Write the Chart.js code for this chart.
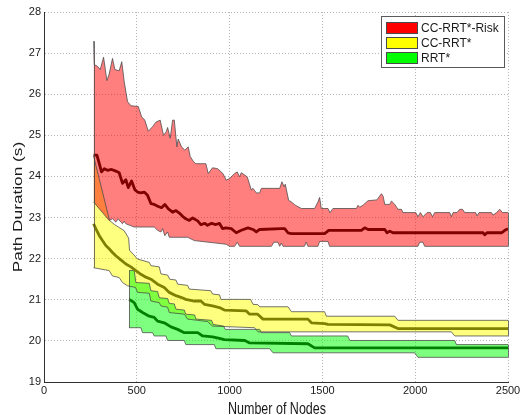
<!DOCTYPE html>
<html><head><meta charset="utf-8">
<script src="https://cdn.jsdelivr.net/npm/chart.js@4.4.0/dist/chart.umd.min.js"></script>
<style>html,body{margin:0;padding:0;background:#fff;}#wrap{width:523px;height:415px;position:relative;}</style>
</head><body><div id="wrap"><canvas id="c" width="523" height="415"></canvas></div>
<script>
// ---- data ----
const seriesNames = ['CC-RRT*-Risk', 'CC-RRT*', 'RRT*'];
const xTitle = 'Number of Nodes';
const yTitle = 'Path Duration (s)';
const xTicks = [0, 500, 1000, 1500, 2000, 2500];
const yTicks = [19, 20, 21, 22, 23, 24, 25, 26, 27, 28];

const riskUpperN = [267,271,288,303,321,339,351,369,382,405,419,432,450,468,508,526,543,562,585,603,626,644,659,666,680,693,702,716,723,741,759,777,788,806,818,872,885,908,935,964,982,1000,1027,1041,1054,1063,1095,1117,1126,1144,1162,1171,1270,1282,1293,1300,1318,1333,1354,1387,1458,1476,1485,1494,1530,1541,1557,1683,1692,1701,1719,1746,1794,1818,1827,1836,1863,1872,1890,1907,1926,1934,2003,2015,2028,2042,2064,2082,2093,2105,2186,2195,2204,2225,2240,2255,2267,2326,2333,2344,2411,2419,2438,2456,2470,2500];
const riskUpper = [27.29,26.72,26.68,26.6,26.9,26.33,26.49,26.87,26.6,26.57,26.79,26.31,25.82,25.72,25.70,25.45,25.37,25.1,25.21,25.32,25.37,25.0,25.09,25.19,24.93,25.37,25.37,24.72,24.91,24.72,24.64,24.72,24.48,24.36,24.31,24.31,24.07,24.21,24.19,24.07,23.91,23.95,24.07,24.11,23.99,24.09,23.99,23.67,23.71,23.6,23.6,23.71,23.71,23.87,23.75,23.81,23.42,23.38,23.3,23.22,23.22,23.38,23.49,23.22,23.22,23.12,23.22,23.22,23.3,23.25,23.3,23.41,23.43,23.58,23.52,23.32,23.32,23.4,23.32,23.2,23.2,23.12,23.12,23.02,23.12,23.02,23.12,23.12,23.02,23.12,23.12,23.02,23.12,23.12,23.2,23.2,23.12,23.12,23.04,23.12,23.12,23.06,23.12,23.2,23.12,23.12];

const riskMeanN = [267,285,298,310,325,342,364,387,405,423,441,454,472,489,504,522,540,558,576,594,616,633,651,670,693,711,729,747,764,783,801,828,845,867,881,903,926,945,962,980,1009,1036,1063,1099,1126,1144,1162,1279,1297,1314,1333,1512,1534,1710,1728,1746,1836,1848,1863,1880,2366,2375,2387,2465,2483,2500];
const riskMean = [24.52,24.52,24.31,24.11,24.19,24.15,24.17,24.13,24.09,23.83,23.92,23.73,23.89,23.68,23.62,23.6,23.62,23.54,23.34,23.32,23.27,23.24,23.32,23.21,23.13,23.17,23.11,23.03,22.97,22.93,22.99,22.92,22.83,22.86,22.81,22.86,22.83,22.86,22.73,22.75,22.73,22.63,22.69,22.75,22.71,22.65,22.71,22.73,22.73,22.63,22.61,22.61,22.69,22.69,22.75,22.71,22.71,22.63,22.67,22.63,22.63,22.58,22.63,22.63,22.69,22.73];

const riskLowerN = [267,351,369,387,400,414,423,432,441,486,594,612,630,639,651,666,675,774,810,982,1000,1027,1041,1054,1225,1239,1260,1270,1279,1288,1403,1413,1422,1476,1485,1530,1539,2015,2024,2042,2051,2500];
const riskLower = [23.38,22.93,22.97,22.89,22.97,22.89,22.85,22.91,22.85,22.77,22.77,22.69,22.65,22.73,22.56,22.65,22.52,22.52,22.44,22.35,22.3,22.3,22.4,22.3,22.3,22.4,22.4,22.3,22.38,22.3,22.3,22.4,22.3,22.3,22.42,22.42,22.3,22.3,22.4,22.4,22.3,22.3];

const ccUpperN = [267,353,380,432,456,461,479,504,567,576,621,630,666,677,711,720,774,783,899,908,946,953,1113,1126,1153,1162,1315,1333,1512,1521,1890,1907,2500];
const ccUpper = [24.5,22.93,22.83,22.68,22.5,22.2,22.12,21.99,21.91,21.83,21.8,21.63,21.6,21.5,21.48,21.38,21.35,21.26,21.22,21.14,21.12,21.01,21.01,20.89,20.88,20.83,20.83,20.71,20.71,20.6,20.6,20.5,20.5];

const ccMeanN = [267,279,298,315,333,351,369,387,414,441,468,495,522,549,576,612,648,675,711,738,764,810,845,864,908,945,972,1090,1108,1151,1180,1422,1441,1512,1530,1863,1907,2500];
const ccMean = [22.85,22.73,22.56,22.44,22.32,22.24,22.15,22.07,21.97,21.87,21.8,21.71,21.62,21.55,21.5,21.38,21.3,21.18,21.1,21.06,21.01,20.97,20.97,20.89,20.85,20.81,20.75,20.73,20.65,20.65,20.53,20.53,20.44,20.42,20.4,20.39,20.3,20.3];

const ccLowerN = [267,351,369,405,423,450,493,504,567,576,621,630,666,675,756,774,828,881,908,1135,1153,2195,2213,2500];
const ccLower = [21.78,21.71,21.58,21.54,21.42,21.34,21.3,21.18,21.16,20.97,20.93,20.85,20.82,20.69,20.65,20.53,20.5,20.47,20.36,20.32,20.22,20.22,20.12,20.12];

const rrtUpperN = [459,486,495,567,576,612,621,666,675,702,711,756,764,812,818,903,911,968,976,1162,1171,1324,1333,1636,1648,2213,2222,2500];
const rrtUpper = [21.71,21.71,21.42,21.4,21.22,21.2,21.05,21.03,20.91,20.9,20.77,20.75,20.65,20.63,20.53,20.5,20.4,20.36,20.28,20.28,20.2,20.2,20.12,20.12,20.01,20.01,19.91,19.91];

const rrtMeanN = [459,486,504,531,567,594,612,648,684,720,756,828,855,908,945,972,1082,1108,1422,1458,2500];
const rrtMean = [21.01,20.93,20.77,20.69,20.6,20.57,20.48,20.44,20.34,20.28,20.2,20.2,20.12,20.1,20.06,20.03,20.01,19.95,19.93,19.83,19.83];

const rrtLowerN = [459,522,531,585,594,657,666,756,764,918,926,1216,1234,1997,2015,2500];
const rrtLower = [20.32,20.32,20.2,20.2,20.12,20.12,20.01,20.01,19.91,19.91,19.81,19.81,19.71,19.71,19.6,19.6];

// ---- styling ----
const FONT = "'Liberation Sans', Arial, Helvetica, sans-serif";
const TEXT = '#1a1a1a';
const EDGE = 'rgba(70,70,70,0.75)';
const bandFill = ['rgba(255,0,0,0.5)', 'rgba(255,255,0,0.5)', 'rgba(0,255,0,0.5)'];
const swatch = ['#ff0000', '#ffff00', '#00ff00'];
const meanColor = ['#800000', '#808000', '#008000'];

function pts(n, v) { const m = Math.min(n.length, v.length); const out = []; for (let i = 0; i < m; i++) out.push({x: n[i], y: v[i]}); return out; }

function edgeDs(label, n, v, order, fillTarget, color) {
  return {label, data: pts(n, v), borderColor: EDGE, borderWidth: 1, pointRadius: 0, tension: 0,
    fill: fillTarget === null ? false : {target: fillTarget}, backgroundColor: color || 'transparent', order};
}
function meanDs(label, n, v, color) {
  return {label, data: pts(n, v), borderColor: color, borderWidth: 2.8, pointRadius: 0, tension: 0, fill: false, order: 0,
    borderJoinStyle: 'round', borderCapStyle: 'butt'};
}

const bands = [
  [riskUpperN, riskUpper, riskLowerN, riskLower],
  [ccUpperN, ccUpper, ccLowerN, ccLower],
  [rrtUpperN, rrtUpper, rrtLowerN, rrtLower]
];

const closeEdges = {
  id: 'closeEdges',
  afterDatasetsDraw(chart) {
    const {ctx, scales: {x, y}} = chart;
    ctx.save();
    ctx.strokeStyle = EDGE; ctx.lineWidth = 1;
    bands.forEach(([un, uv, ln, lv]) => {
      [[0, 0], [un.length - 1, ln.length - 1]].forEach(([iu, il]) => {
        const px = Math.round(x.getPixelForValue(un[iu])) + 0.5;
        ctx.beginPath();
        ctx.moveTo(px, y.getPixelForValue(uv[iu]));
        ctx.lineTo(px, y.getPixelForValue(lv[il]));
        ctx.stroke();
      });
    });
    ctx.restore();
  }
};

// axis titles: the reference picture is stretched vertically, so its text is too
const axisTitles = {
  id: 'axisTitles',
  afterDraw(chart) {
    const {ctx, chartArea: a} = chart;
    ctx.save();
    ctx.fillStyle = TEXT;
    ctx.font = '12.5px ' + FONT;
    ctx.textAlign = 'center';
    // x title
    ctx.save();
    ctx.translate((a.left + a.right) / 2 + 1, 414);
    ctx.scale(1, 1.25);
    ctx.textBaseline = 'alphabetic';
    ctx.fillText(xTitle, 0, 0);
    ctx.restore();
    // y title
    ctx.save();
    ctx.translate(18.5, 207);
    ctx.rotate(-Math.PI / 2);
    ctx.scale(1.38, 1);
    ctx.textBaseline = 'middle';
    ctx.fillText(yTitle, 0, 0);
    ctx.restore();
    ctx.restore();
  }
};

const boxLegend = {
  id: 'boxLegend',
  afterDraw(chart) {
    const {ctx, chartArea: a} = chart;
    const x0 = Math.round(a.right) - 127, y0 = Math.round(a.top) + 4, w = 123, h = 51;
    ctx.save();
    ctx.fillStyle = '#fff';
    ctx.fillRect(x0, y0, w, h);
    ctx.strokeStyle = '#5a5a5a'; ctx.lineWidth = 1;
    ctx.strokeRect(x0 + 0.5, y0 + 0.5, w, h);
    seriesNames.forEach((name, i) => {
      const cy = y0 + 12 + i * 15;
      ctx.fillStyle = swatch[i];
      ctx.fillRect(x0 + 5.5, cy - 5.5, 31, 11);
      ctx.strokeStyle = '#4a4a4a';
      ctx.strokeRect(x0 + 5.5, cy - 5.5, 31, 11);
      ctx.fillStyle = TEXT;
      ctx.font = '12px ' + FONT;
      ctx.textBaseline = 'middle';
      ctx.textAlign = 'left';
      ctx.save();
      ctx.translate(x0 + 40, cy + 0.5);
      ctx.scale(1, 1.12);
      ctx.fillText(name, 0, 0);
      ctx.restore();
    });
    ctx.restore();
  }
};

new Chart(document.getElementById('c'), {
  type: 'line',
  data: {
    datasets: [
      edgeDs(seriesNames[0] + ' upper', riskUpperN, riskUpper, 2, 1, bandFill[0]),
      edgeDs(seriesNames[0] + ' lower', riskLowerN, riskLower, 2, null),
      edgeDs(seriesNames[1] + ' upper', ccUpperN, ccUpper, 3, 3, bandFill[1]),
      edgeDs(seriesNames[1] + ' lower', ccLowerN, ccLower, 3, null),
      edgeDs(seriesNames[2] + ' upper', rrtUpperN, rrtUpper, 1, 5, bandFill[2]),
      edgeDs(seriesNames[2] + ' lower', rrtLowerN, rrtLower, 1, null),
      meanDs(seriesNames[0], riskMeanN, riskMean, meanColor[0]),
      meanDs(seriesNames[1], ccMeanN, ccMean, meanColor[1]),
      meanDs(seriesNames[2], rrtMeanN, rrtMean, meanColor[2])
    ]
  },
  options: {
    responsive: false,
    animation: false,
    devicePixelRatio: 1,
    layout: {padding: {top: 12, right: 15, left: 0, bottom: 0}},
    plugins: {
      legend: {display: false},
      tooltip: {enabled: false},
      filler: {drawTime: 'beforeDatasetsDraw'}
    },
    scales: {
      x: {
        type: 'linear', min: 0, max: 2500,
        afterBuildTicks(s) { s.ticks = xTicks.map(v => ({value: v})); },
        afterFit(s) { s.height = 33; },
        grid: {color: '#b4b4b4', lineWidth: 1, drawTicks: false},
        border: {display: true, color: '#303030', width: 1, dash: [1, 2]},
        ticks: {color: TEXT, font: {family: FONT, size: 11}, padding: 2, maxRotation: 0, autoSkip: false,
          callback: v => String(v)},
        title: {display: false, text: xTitle}
      },
      y: {
        type: 'linear', min: 19, max: 28,
        afterBuildTicks(s) { s.ticks = yTicks.map(v => ({value: v})); },
        afterFit(s) { s.width = 44; },
        grid: {color: '#b4b4b4', lineWidth: 1, drawTicks: false},
        border: {display: true, color: '#303030', width: 1, dash: [1, 2]},
        ticks: {color: TEXT, font: {family: FONT, size: 11}, padding: 3, autoSkip: false,
          callback: v => String(v)},
        title: {display: false, text: yTitle}
      }
    }
  },
  plugins: [closeEdges, axisTitles, boxLegend]
});
</script>
</body></html>
